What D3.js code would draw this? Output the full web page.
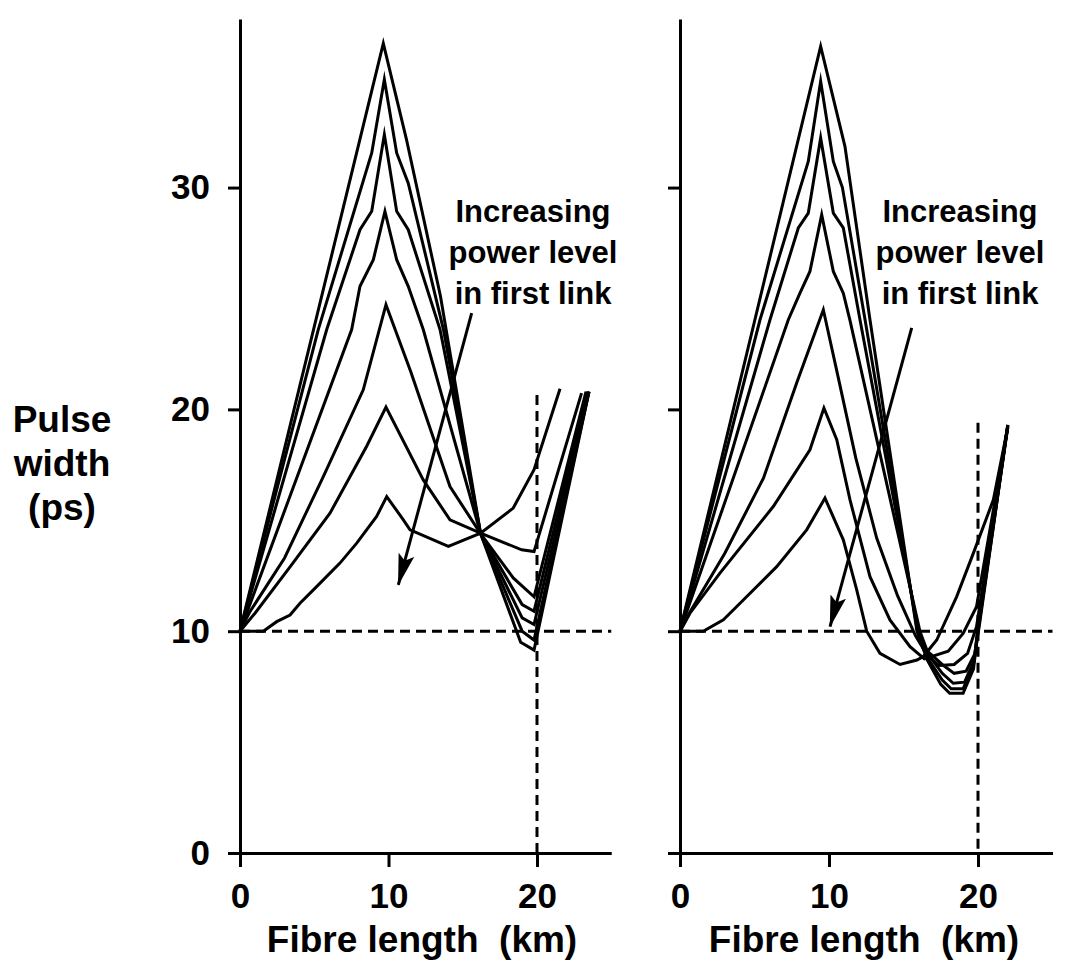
<!DOCTYPE html>
<html>
<head>
<meta charset="utf-8">
<script src="https://cdn.jsdelivr.net/npm/d3@7"></script>
<style>
  body { margin: 0; background: #fff; }
  text { font-family: "Liberation Sans", Arial, sans-serif; font-weight: bold; fill: #000; }
</style>
</head>
<body>
<div id="chart"></div>
<script>
// values: [fibre length km, pulse width ps]
const xTicks = [0, 10, 20]
const yTicks = [0, 10, 20, 30]
const yLabel = ["Pulse", "width", "(ps)"]
const xLabel = "Fibre length  (km)"
const note = ["Increasing", "power level", "in first link"]

// left panel, highest peak first
const left1 = [[0,10],[9.65,36.5],[11.2,32.2],[13.5,25.1],[16.2,14.4],[18.9,9.5],[19.8,9.15],[23.5,20.8]]
const left2 = [[0,10],[5.27,23.6],[8.87,31.56],[9.72,34.87],[10.55,31.56],[11.33,30.2],[13.7,23.6],[16.2,14.4],[19.0,10.0],[19.8,9.6],[23.5,20.8]]
const left3 = [[0,10],[5.84,23.6],[8.08,28.1],[8.87,28.93],[9.72,32.39],[10.55,28.93],[11.33,28.1],[13.47,23.6],[16.2,14.4],[19.0,10.6],[19.8,10.3],[23.5,20.8]]
const left4 = [[0,10],[7.52,23.6],[8.08,25.55],[8.98,26.75],[9.76,28.93],[10.55,26.75],[11.33,25.55],[12.34,23.6],[16.2,14.4],[19.0,11.2],[19.8,10.9],[23.4,20.8]]
const left5 = [[0,10],[0.67,10.88],[3.0,13.3],[5.61,16.97],[8.3,20.88],[9.83,24.72],[11.5,21.7],[14.14,16.52],[16.2,14.4],[18.4,12.4],[19.8,11.55],[23.3,20.8]]
const left6 = [[0,10],[1.01,10.81],[3.37,12.9],[6.06,15.32],[8.53,18.34],[9.83,20.1],[12.34,16.82],[14.14,15.02],[16.2,14.42],[18.97,13.67],[19.8,13.59],[23.0,20.73]]
const left7 = [[0,10],[1.57,10],[2.47,10.43],[3.37,10.73],[4.04,11.26],[5.16,12.01],[6.73,13.07],[7.86,13.97],[9.2,15.17],[9.88,16.07],[11.0,15.02],[11.45,14.57],[14.03,13.82],[16.2,14.42],[18.4,15.55],[19.8,17.28],[21.55,20.93]]

// right panel, highest peak first
const right1 = [[0,10],[9.44,36.37],[11.07,31.86],[12.75,24.04],[15.9,10.0],[16.6,8.7],[17.5,7.6],[18.1,7.2],[19.0,7.2],[19.7,8.3],[20.0,10.0],[22.0,19.2]]
const right2 = [[0,10],[5.37,24.04],[8.61,31.18],[9.44,34.79],[10.29,31.18],[10.9,30.0],[12.42,24.04],[15.95,10.0],[16.6,8.8],[17.6,7.8],[18.2,7.4],[19.0,7.4],[19.7,8.5],[20.0,10.1],[22.0,19.25]]
const right3 = [[0,10],[6.04,24.04],[7.94,28.18],[8.61,28.85],[9.44,32.24],[10.29,28.85],[10.96,28.18],[12.08,24.04],[16.0,10.0],[16.6,9.0],[17.6,8.1],[18.34,7.65],[19.1,7.7],[19.75,8.7],[20.0,10.2],[22.0,19.3]]
const right4 = [[0,10],[7.27,24.04],[8.05,25.24],[8.72,26.22],[9.51,28.78],[10.29,26.22],[10.96,25.24],[11.4,24.04],[16.1,10.0],[16.6,9.1],[17.6,8.5],[18.4,8.1],[19.2,8.2],[19.8,9.0],[20.1,10.3],[22.0,19.3]]
const right5 = [[0,10],[0.7,10.9],[3.0,13.5],[5.6,16.9],[7.83,21.19],[9.62,24.49],[10.6,21.5],[11.8,17.8],[13.2,14.2],[14.6,11.6],[15.8,9.8],[16.6,8.9],[17.4,8.45],[18.4,8.5],[19.3,9.0],[19.9,10.2],[22.0,19.3]]
const right6 = [[0,10],[0.67,10.81],[2.68,12.62],[6.26,15.62],[8.72,18.18],[9.66,20.06],[10.52,18.63],[11.41,15.92],[12.75,12.46],[14.09,10.51],[15.44,9.3],[16.4,8.75],[18.0,9.1],[19.0,9.9],[19.9,11.1],[22.0,19.2]]
const right7 = [[0,10],[1.56,10],[2.91,10.51],[4.03,11.26],[6.49,12.91],[8.5,14.57],[9.73,16.0],[10.96,14.12],[11.86,11.86],[12.53,10.0],[13.42,9.0],[14.77,8.5],[15.9,8.7],[16.33,8.86],[17.23,9.6],[18.57,11.56],[19.69,13.52],[21.03,15.92],[22.0,19.2]]

// arrows: [from, to]
const leftArrow = [[15.6, 24.34], [10.66, 12.09]]
const rightArrow = [[15.55, 23.67], [10.07, 10.21]]

// dashed guides: pulse width 10 line, and the 20 km line up to its top value
const guideWidth = 10
const leftGuideTop = 20.65
const rightGuideTop = 19.4

const W = 1073, H = 977
const svg = d3.select("#chart").append("svg")
  .attr("width", W).attr("height", H)
  .style("background", "#fff")

svg.append("defs").append("marker")
  .attr("id", "head")
  .attr("markerUnits", "userSpaceOnUse")
  .attr("viewBox", "0 0 32 16")
  .attr("markerWidth", 32).attr("markerHeight", 16)
  .attr("refX", 31).attr("refY", 8)
  .attr("orient", "auto")
  .append("path")
  .attr("d", "M0,0 L32,8 L0,16 L6,8 Z")
  .attr("fill", "#000")

let y = d3.scaleLinear().domain([0, 37.6]).range([853, 19])

let panels = [
  { range: [240, 611.25], curves: [left1, left2, left3, left4, left5, left6, left7], arrow: leftArrow, guideTop: leftGuideTop, labels: true, noteX: 533, titleX: 422 },
  { range: [680, 1052.5], curves: [right1, right2, right3, right4, right5, right6, right7], arrow: rightArrow, guideTop: rightGuideTop, labels: false, noteX: 960, titleX: 864 }
]

panels.forEach(p => {
  let x = d3.scaleLinear().domain([0, 25]).range(p.range)
  let g = svg.append("g")

  // dashed guides
  g.append("line")
    .attr("x1", x(0)).attr("x2", x(25))
    .attr("y1", y(guideWidth)).attr("y2", y(guideWidth))
    .attr("stroke", "#000").attr("stroke-width", 3)
    .attr("stroke-dasharray", "10 6")
  g.append("line")
    .attr("x1", x(20)).attr("x2", x(20))
    .attr("y1", y(p.guideTop)).attr("y2", y(0))
    .attr("stroke", "#000").attr("stroke-width", 3)
    .attr("stroke-dasharray", "10 6")

  // axes
  let ax = g.append("g")
    .attr("transform", "translate(0," + y(0) + ")")
    .call(d3.axisBottom(x).tickValues(xTicks).tickSize(14).tickPadding(16).tickSizeOuter(0))
  let ay = g.append("g")
    .attr("transform", "translate(" + x(0) + ",0)")
    .call(d3.axisLeft(y).tickValues(yTicks).tickSize(12).tickPadding(18).tickSizeOuter(0)
      .tickFormat(p.labels ? d3.format("d") : ""))
  ;[ax, ay].forEach(a => {
    a.selectAll("path, line").attr("stroke", "#000").attr("stroke-width", 3)
    a.selectAll("text").style("font-size", "35px").style("font-family", "Liberation Sans, Arial, sans-serif").style("font-weight", "bold")
  })

  // curves
  let line = d3.line().x(d => x(d[0])).y(d => y(d[1]))
  g.selectAll("path.curve")
    .data(p.curves)
    .join("path")
    .attr("class", "curve")
    .attr("d", line)
    .attr("fill", "none")
    .attr("stroke", "#000")
    .attr("stroke-width", 3)
    .attr("stroke-linejoin", "miter")
    .attr("stroke-miterlimit", 12)

  // arrow
  g.append("line")
    .attr("x1", x(p.arrow[0][0])).attr("y1", y(p.arrow[0][1]))
    .attr("x2", x(p.arrow[1][0])).attr("y2", y(p.arrow[1][1]))
    .attr("stroke", "#000").attr("stroke-width", 3)
    .attr("marker-end", "url(#head)")

  // note
  g.append("text")
    .attr("text-anchor", "middle")
    .style("font-size", "31px")
    .selectAll("tspan")
    .data(note)
    .join("tspan")
    .attr("x", p.noteX)
    .attr("y", (d, i) => 222 + i * 41)
    .text(d => d)

  // x title
  g.append("text")
    .attr("x", p.titleX).attr("y", 952)
    .attr("text-anchor", "middle")
    .style("font-size", "37px")
    .style("white-space", "pre")
    .text(xLabel)
})

// y title
svg.append("text")
  .attr("text-anchor", "middle")
  .style("font-size", "37px")
  .selectAll("tspan")
  .data(yLabel)
  .join("tspan")
  .attr("x", 62)
  .attr("y", (d, i) => 432 + i * 44)
  .text(d => d)
</script>
</body>
</html>
